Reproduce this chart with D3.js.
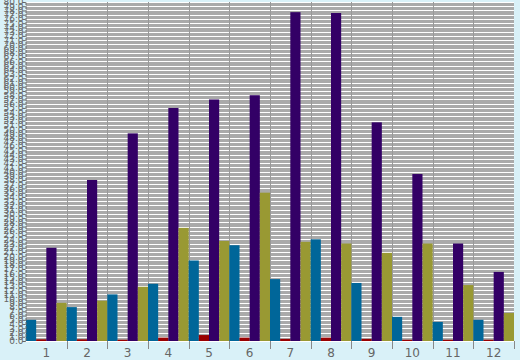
<!DOCTYPE html>
<html><head><meta charset="utf-8">
<script src="https://cdn.jsdelivr.net/npm/d3@7"></script>
<style>
html,body{margin:0;padding:0;background:#d9f1f8;}
svg{display:block;}
</style></head>
<body>
<svg id="chart" width="520" height="360"></svg>
<script>
const categories = ["1","2","3","4","5","6","7","8","9","10","11","12"];
const seriesNames = ["A","B","C","D"];
const seriesColors = ["#006699","#990000","#330066","#999933"];
const blueValues   = [5, 8, 11, 13.5, 19, 22.6, 14.6, 24, 13.7, 5.7, 4.5, 5];
const redValues    = [0.4, 0.4, 0.3, 0.8, 1.4, 0.8, 0.5, 0.8, 0.5, 0.3, 0.3, 0.3];
const purpleValues = [22, 38, 49, 55, 57, 58, 77.6, 77.4, 51.6, 39.4, 23, 16.3];
const oliveValues  = [9, 9.5, 12.8, 26.7, 23.6, 35, 23.4, 23, 20.8, 23, 13.2, 6.6];
const yTicks = d3.range(0, 81, 1);

const values = [blueValues, redValues, purpleValues, oliveValues];
const W = 520, H = 360;
const m = {left: 26, right: 6, top: 2, bottom: 19};
const svg = d3.select("#chart");
const x0 = d3.scaleBand().domain(categories).range([m.left, W - m.right]).padding(0);
const x1 = d3.scaleBand().domain(seriesNames).range([0, x0.bandwidth()]).padding(0);
const y = d3.scaleLinear().domain([0, 80]).range([H - m.bottom, m.top]);

// plot background
svg.append("rect").attr("x", m.left).attr("y", m.top)
  .attr("width", W - m.left - m.right).attr("height", H - m.top - m.bottom)
  .attr("fill", "#aaaaaa");

// horizontal gridlines
svg.append("g").selectAll("line").data(yTicks).join("line")
  .attr("x1", m.left).attr("x2", W - m.right)
  .attr("y1", d => Math.round(y(d)) + 0.5).attr("y2", d => Math.round(y(d)) + 0.5)
  .attr("stroke", "#ffffff").attr("stroke-width", 1);

// vertical gridlines at group boundaries
svg.append("g").selectAll("line").data(categories.slice(1)).join("line")
  .attr("x1", d => Math.round(x0(d)) + 0.5).attr("x2", d => Math.round(x0(d)) + 0.5)
  .attr("y1", m.top).attr("y2", H - m.bottom)
  .attr("stroke", "#999999").attr("stroke-width", 1);

// bars
const g = svg.append("g");
categories.forEach((c, i) => {
  seriesNames.forEach((s, j) => {
    const v = values[j][i];
    g.append("rect")
      .attr("x", x0(c) + x1(s))
      .attr("width", x1.bandwidth())
      .attr("y", y(v))
      .attr("height", y(0) - y(v))
      .attr("fill", seriesColors[j]);
  });
});

// y axis
const yAxis = d3.axisLeft(y).tickValues(yTicks).tickSize(3).tickFormat(d => d3.format(".1f")(d));
const ya = svg.append("g").attr("transform", `translate(${m.left - 0.5},0)`).call(yAxis);
ya.select(".domain").attr("stroke", "#666666").attr("stroke-dasharray", "3,1");
ya.selectAll(".tick line").attr("stroke", "#666666");
ya.selectAll("text").attr("fill", "#666666").attr("font-size", 9)
  .attr("font-family", "DejaVu Sans").attr("x", -2);

// x axis
const boundaries = categories.slice(1).map(c => x0(c)).concat([W - m.right]);
svg.append("g").selectAll("line").data(boundaries).join("line")
  .attr("x1", d => Math.round(d) + 0.5).attr("x2", d => Math.round(d) + 0.5)
  .attr("y1", H - m.bottom).attr("y2", H - m.bottom + 8)
  .attr("stroke", "#888888");
svg.append("g").selectAll("text").data(categories).join("text")
  .attr("x", d => x0(d) + x0.bandwidth() / 2)
  .attr("y", H - 3)
  .attr("text-anchor", "middle")
  .attr("fill", "#666666")
  .attr("font-size", 12)
  .attr("font-family", "DejaVu Sans")
  .text(d => d);
</script>
</body></html>
